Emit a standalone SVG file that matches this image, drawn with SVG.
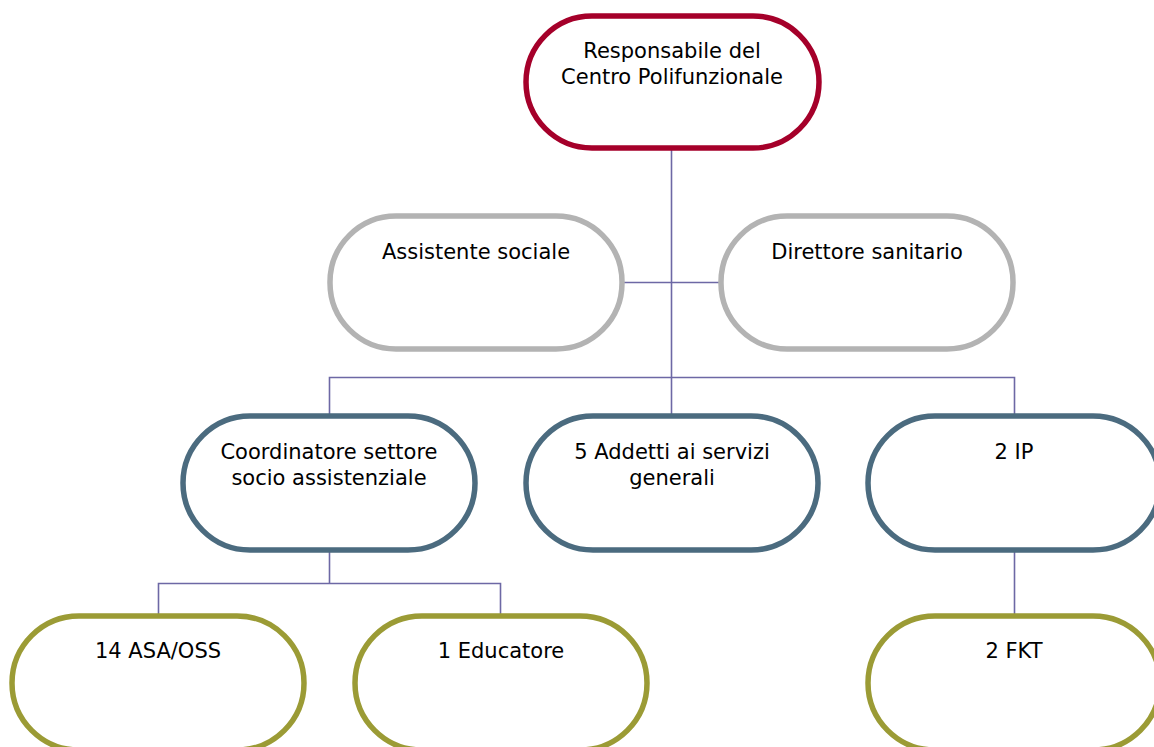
<svg xmlns="http://www.w3.org/2000/svg" width="1154" height="747" viewBox="0 0 1154 747">
<style>
.n{fill:#fff;stroke-width:5.5}
.r{stroke:#a5002a}
.g{stroke:#b3b3b3}
.b{stroke:#4b6b7f}
.o{stroke:#9b9b35}
text{font-family:"DejaVu Sans","Verdana",sans-serif;font-size:21px;fill:#000;text-anchor:middle}
.c{fill:none;stroke:#6d68a5;stroke-width:1.6}
</style>
<rect width="1154" height="747" fill="#fff"/>
<g id="connectors">
<path class="c" d="M671.5 149V416"/>
<path class="c" d="M622 282.5H721"/>
<path class="c" d="M329.5 416V377.5H1014.5V416"/>
<path class="c" d="M329.5 552V583.5"/>
<path class="c" d="M158.5 616V583.5H500.5V616"/>
<path class="c" d="M1014.5 552V616"/>
</g>
<g id="n-root"><rect class="n r" x="526" y="16" width="293" height="132" rx="66"/><text x="672" y="58">Responsabile del</text><text x="672" y="84">Centro Polifunzionale</text></g>
<g id="n-assistente"><rect class="n g" x="330" y="216" width="292" height="133" rx="66"/><text x="476" y="259">Assistente sociale</text></g>
<g id="n-direttore"><rect class="n g" x="721" y="216" width="292" height="133" rx="66"/><text x="867" y="259">Direttore sanitario</text></g>
<g id="n-coordinatore"><rect class="n b" x="183" y="416" width="292" height="134" rx="67"/><text x="329" y="459">Coordinatore settore</text><text x="329" y="485">socio assistenziale</text></g>
<g id="n-addetti"><rect class="n b" x="526" y="416" width="292" height="134" rx="67"/><text x="672" y="459">5 Addetti ai servizi</text><text x="672" y="485">generali</text></g>
<g id="n-ip"><rect class="n b" x="868" y="416" width="292" height="134" rx="67"/><text x="1014" y="459">2 IP</text></g>
<g id="n-asa"><rect class="n o" x="12" y="616" width="292" height="134" rx="67"/><text x="158" y="658">14 ASA/OSS</text></g>
<g id="n-educatore"><rect class="n o" x="355" y="616" width="292" height="134" rx="67"/><text x="501" y="658">1 Educatore</text></g>
<g id="n-fkt"><rect class="n o" x="868" y="616" width="292" height="134" rx="67"/><text x="1014" y="658">2 FKT</text></g>
</svg>
